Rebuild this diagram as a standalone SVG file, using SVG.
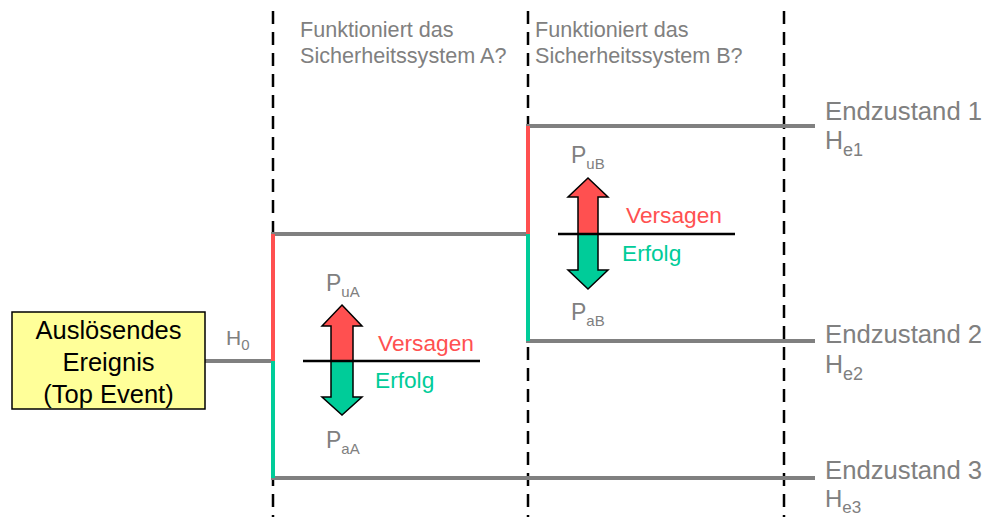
<svg xmlns="http://www.w3.org/2000/svg" width="987" height="517" viewBox="0 0 987 517">
<style>
text{font-family:"Liberation Sans",Arial,sans-serif;}
.g{fill:#808080;}
.red{fill:#FF5050;}
.grn{fill:#00CC99;}
.dash{stroke:#000;stroke-width:2.5;stroke-dasharray:13 8;fill:none;}
.br{stroke:#808080;stroke-width:4;fill:none;}
.vr{stroke:#FF5050;stroke-width:4;fill:none;}
.vg{stroke:#00CC99;stroke-width:4;fill:none;}
.ax{stroke:#000;stroke-width:2.5;}
.arr{stroke:#000;stroke-width:1.5;stroke-linejoin:miter;}
.q{font-size:21.6px;fill:#808080;}
.end{font-size:25.7px;fill:#808080;}
.lab{font-size:22.7px;}
</style>
<rect width="987" height="517" fill="#fff"/>
<g id="phases">
<line class="dash" x1="273" y1="11" x2="273" y2="517"/>
<line class="dash" x1="528" y1="11" x2="528" y2="517"/>
<line class="dash" x1="784" y1="11" x2="784" y2="517"/>
<text class="q" x="300" y="37">Funktioniert das</text>
<text class="q" x="300" y="63">Sicherheitssystem A?</text>
<text class="q" x="535" y="37">Funktioniert das</text>
<text class="q" x="535" y="63">Sicherheitssystem B?</text>
</g>
<g id="connectors">
<line class="br" x1="205" y1="361" x2="273" y2="361"/>
<line class="br" x1="271" y1="234" x2="528" y2="234"/>
<line class="br" x1="271" y1="478" x2="815" y2="478"/>
<line class="br" x1="526" y1="126" x2="815" y2="126"/>
<line class="br" x1="526" y1="341" x2="815" y2="341"/>
<line class="vr" x1="273" y1="234" x2="273" y2="361"/>
<line class="vg" x1="273" y1="361" x2="273" y2="478"/>
<line class="vr" x1="528" y1="126" x2="528" y2="234"/>
<line class="vg" x1="528" y1="234" x2="528" y2="341"/>
</g>
<g id="top-event">
<rect x="12" y="312" width="193" height="97" fill="#FFFF99" stroke="#000" stroke-width="1.5"/>
<text x="108.5" y="339" font-size="25.5" text-anchor="middle" fill="#000">Auslösendes</text>
<text x="108.5" y="371" font-size="25.5" text-anchor="middle" fill="#000">Ereignis</text>
<text x="108.5" y="403" font-size="25.5" text-anchor="middle" fill="#000">(Top Event)</text>
<text x="226" y="345" font-size="21" class="g">H<tspan font-size="15" dy="5">0</tspan></text>
</g>
<g id="system-a">
<polygon class="arr red" points="342,305 362,326 353,326 353,361 331,361 331,326 322,326"/>
<polygon class="arr grn" points="331,361 353,361 353,397 362,397 342,415 322,397 331,397"/>
<line class="ax" x1="303" y1="361" x2="480" y2="361"/>
<text x="326" y="291" font-size="23" class="g">P<tspan font-size="15" dy="6">uA</tspan></text>
<text x="326" y="448" font-size="23" class="g">P<tspan font-size="15" dy="6">aA</tspan></text>
<text class="lab red" x="378" y="351">Versagen</text>
<text class="lab grn" x="375" y="388">Erfolg</text>
</g>
<g id="system-b">
<polygon class="arr red" points="588,178 608,197 598,197 598,234 578,234 578,197 568,197"/>
<polygon class="arr grn" points="578,234 598,234 598,270 608,270 588,289 568,270 578,270"/>
<line class="ax" x1="558" y1="234" x2="735" y2="234"/>
<text x="571" y="163" font-size="23" class="g">P<tspan font-size="15" dy="6">uB</tspan></text>
<text x="571" y="320" font-size="23" class="g">P<tspan font-size="15" dy="6">aB</tspan></text>
<text class="lab red" x="626" y="223">Versagen</text>
<text class="lab grn" x="622" y="261">Erfolg</text>
</g>
<g id="end-1">
<text class="end" x="825" y="120">Endzustand 1</text>
<text x="825" y="149" font-size="25" class="g">H<tspan font-size="18" dy="7">e1</tspan></text>
</g>
<g id="end-2">
<text class="end" x="825" y="343">Endzustand 2</text>
<text x="825" y="373" font-size="25" class="g">H<tspan font-size="18" dy="7">e2</tspan></text>
</g>
<g id="end-3">
<text class="end" x="825" y="479">Endzustand 3</text>
<text x="825" y="507" font-size="24" class="g">H<tspan font-size="17" dy="6">e3</tspan></text>
</g>
</svg>
